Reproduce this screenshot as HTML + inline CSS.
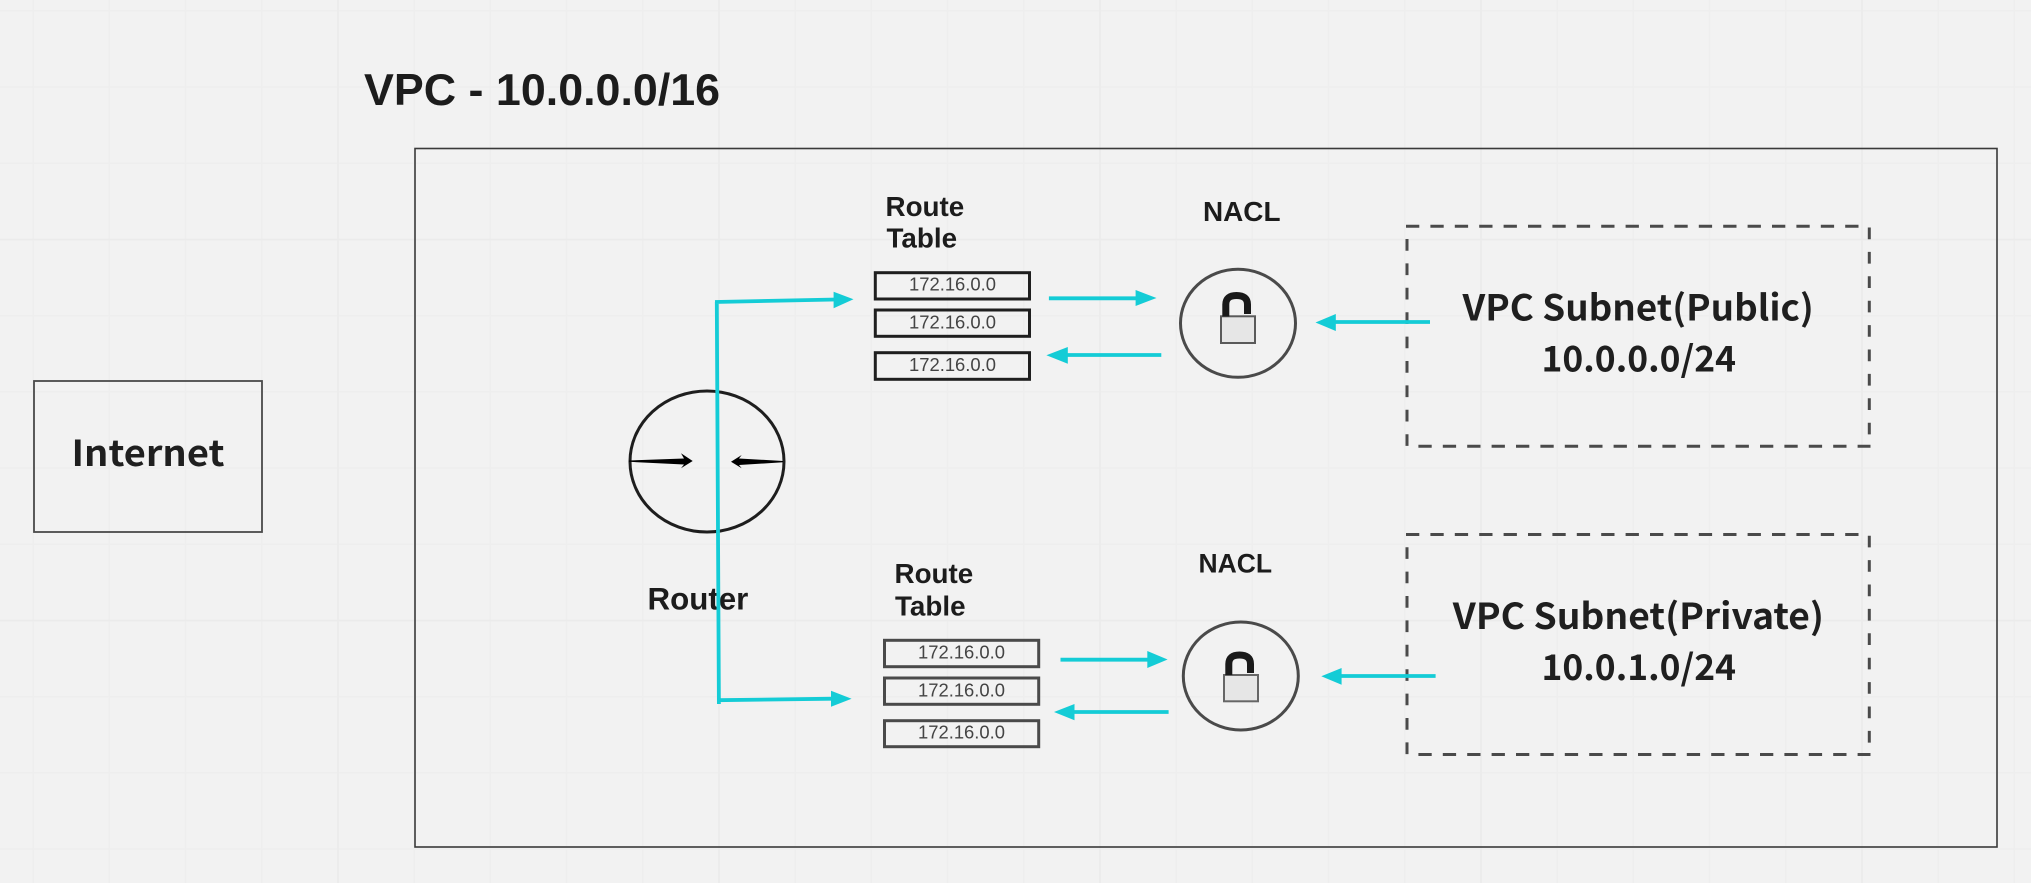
<!DOCTYPE html>
<html><head><meta charset="utf-8"><title>VPC diagram</title>
<style>html,body{margin:0;padding:0;background:#f2f2f2;width:2031px;height:883px;overflow:hidden}svg{display:block}
.l{font-family:"Liberation Sans",sans-serif;font-weight:700;fill:#1c1c1c}
.o{font-family:"Noto Sans CJK JP","Liberation Sans",sans-serif;font-weight:700;fill:#1f1f1f;font-size:35.5px}
.r{font-family:"Liberation Sans",sans-serif;font-size:18.4px;fill:#444;text-anchor:middle}
.t{fill:none;stroke:#14ccd6;stroke-width:3.8}.h{fill:#14ccd6;stroke:none}
.d{fill:none;stroke:#4a4a4a;stroke-width:3}
</style></head><body>
<svg width="2031" height="883" viewBox="0 0 2031 883" xmlns="http://www.w3.org/2000/svg">
<defs>
<pattern id="g1" patternUnits="userSpaceOnUse" x="32.4" y="10.1" width="76.2" height="76.2"><path d="M.8 0V76.2M0 .8H76.2" fill="none" stroke="#eeeeee" stroke-width="1.5"/></pattern>
<pattern id="g2" patternUnits="userSpaceOnUse" x="337.2" y="238.7" width="381" height="381"><path d="M.8 0V381M0 .8H381" fill="none" stroke="#ebebeb" stroke-width="1.6"/></pattern>
</defs>
<rect width="2031" height="883" fill="#f2f2f2"/>
<rect width="2031" height="883" fill="url(#g1)"/>
<rect width="2031" height="883" fill="url(#g2)"/>

<text class="l" x="364" y="105" font-size="44.8">VPC - 10.0.0.0/16</text>
<rect x="415" y="148.5" width="1582" height="698.5" fill="none" stroke="#3a3a3a" stroke-width="1.6"/>

<rect x="34" y="381" width="228" height="151" fill="none" stroke="#4a4a4a" stroke-width="1.8"/>
<text class="o" x="71.5" y="466" textLength="153" lengthAdjust="spacingAndGlyphs">Internet</text>

<g class="d">
<path stroke-dasharray="13.3 11.1" d="M1406 226.300H1869"/>
<path stroke-dasharray="11.7 12.700" d="M1869.300 227.500V446"/>
<path stroke-dasharray="11.7 12.700" d="M1407 239V446"/>
<path stroke-dasharray="13.3 11.1" d="M1418.400 446.300H1870.500"/>
</g>
<g class="d" transform="translate(0 308.200)">
<path stroke-dasharray="13.3 11.1" d="M1406 226.300H1869"/>
<path stroke-dasharray="11.7 12.700" d="M1869.300 227.500V446"/>
<path stroke-dasharray="11.7 12.700" d="M1407 239V446"/>
<path stroke-dasharray="13.3 11.1" d="M1418.400 446.300H1870.500"/>
</g>
<text class="o" x="1462.500" y="320.700" textLength="351.300" lengthAdjust="spacingAndGlyphs">VPC Subnet(Public)</text>
<text class="o" x="1541.500" y="371.700" textLength="194.500" lengthAdjust="spacingAndGlyphs">10.0.0.0/24</text>
<text class="o" x="1452.800" y="628.800" textLength="371.200" lengthAdjust="spacingAndGlyphs">VPC Subnet(Private)</text>
<text class="o" x="1541.500" y="679.800" textLength="194.500" lengthAdjust="spacingAndGlyphs">10.0.1.0/24</text>

<ellipse cx="707" cy="461.500" rx="77" ry="70.500" fill="none" stroke="#1e1e1e" stroke-width="3"/>
<path d="M629 460.500L684 458.500L681 453.300L692.700 461L681 468.300L684 464.500L629 461.800Z" fill="#000"/>
<path d="M783 461L739 458.500L741.700 455L731 461.700L741.700 468.300L739 465L783 462.300Z" fill="#000"/>
<text class="l" x="647.500" y="609.500" font-size="31.300">Router</text>

<path class="t" d="M718.900 704L716.800 302M715 302L836 299.500M717 700.200L834 698.700"/>
<polygon class="h" points="853.500,299.300 833.600,291.700 833.600,308.300"/>
<polygon class="h" points="851.600,698.700 831,690.700 831,706.700"/>

<text class="l" x="885.500" y="216" font-size="27.800">Route</text>
<text class="l" x="886.500" y="247.300" font-size="27.800">Table</text>
<g fill="none" stroke="#1f1f1f" stroke-width="3">
<rect x="875.300" y="272.700" width="154.200" height="26.300"/>
<rect x="875.300" y="310" width="154.200" height="26.300"/>
<rect x="875.300" y="352.700" width="154.200" height="26.600"/>
</g>
<text class="r" x="952.500" y="290.700">172.16.0.0</text>
<text class="r" x="952.500" y="328.300">172.16.0.0</text>
<text class="r" x="952.500" y="371">172.16.0.0</text>

<text class="l" x="894.500" y="583" font-size="27.800">Route</text>
<text class="l" x="895" y="615.300" font-size="27.800">Table</text>
<g fill="none" stroke="#4a4a4a" stroke-width="3">
<rect x="884.500" y="640.300" width="154.200" height="26.400"/>
<rect x="884.500" y="678" width="154.200" height="26.300"/>
<rect x="884.500" y="720.700" width="154.200" height="26"/>
</g>
<text class="r" x="961.500" y="658.700">172.16.0.0</text>
<text class="r" x="961.500" y="696.700">172.16.0.0</text>
<text class="r" x="961.500" y="738.700">172.16.0.0</text>

<text class="l" x="1203" y="221" font-size="27.500" textLength="77.500" lengthAdjust="spacingAndGlyphs">NACL</text>
<text class="l" x="1198.500" y="572.700" font-size="26.500">NACL</text>

<ellipse cx="1238" cy="323.300" rx="57.500" ry="54" fill="none" stroke="#4a4a4a" stroke-width="3"/>
<rect x="1221" y="316.300" width="34" height="26.700" fill="#e6e6e6" stroke="#5a5a5a" stroke-width="2"/>
<path d="M1225.800 316.500V304.500Q1225.800 295.500 1236.500 295.500Q1247.500 295.500 1247.500 304.500V314" fill="none" stroke="#1a1a1a" stroke-width="7"/>

<ellipse cx="1240.800" cy="676" rx="57.500" ry="54" fill="none" stroke="#4a4a4a" stroke-width="3"/>
<rect x="1224" y="675" width="34" height="26.300" fill="#e6e6e6" stroke="#666" stroke-width="2"/>
<path d="M1228.800 675V664Q1228.800 655 1239.500 655Q1250.500 655 1250.500 664V673" fill="none" stroke="#1a1a1a" stroke-width="7"/>

<path class="t" d="M1048.900 298.300H1137M1161.300 355H1066M1430 322H1334M1060.500 659.700H1149M1168.600 712H1073M1435.600 676H1340"/>
<polygon class="h" points="1156.500,298 1135.600,290 1135.600,306"/>
<polygon class="h" points="1046.400,355.300 1067.800,347 1067.800,363.700"/>
<polygon class="h" points="1315.500,322.500 1335.800,314 1335.800,331"/>
<polygon class="h" points="1167.600,659.500 1147.300,651 1147.300,668"/>
<polygon class="h" points="1054,712 1074.500,704 1074.500,720.300"/>
<polygon class="h" points="1321.300,676.300 1341.600,668 1341.600,684.700"/>
</svg>
</body></html>
